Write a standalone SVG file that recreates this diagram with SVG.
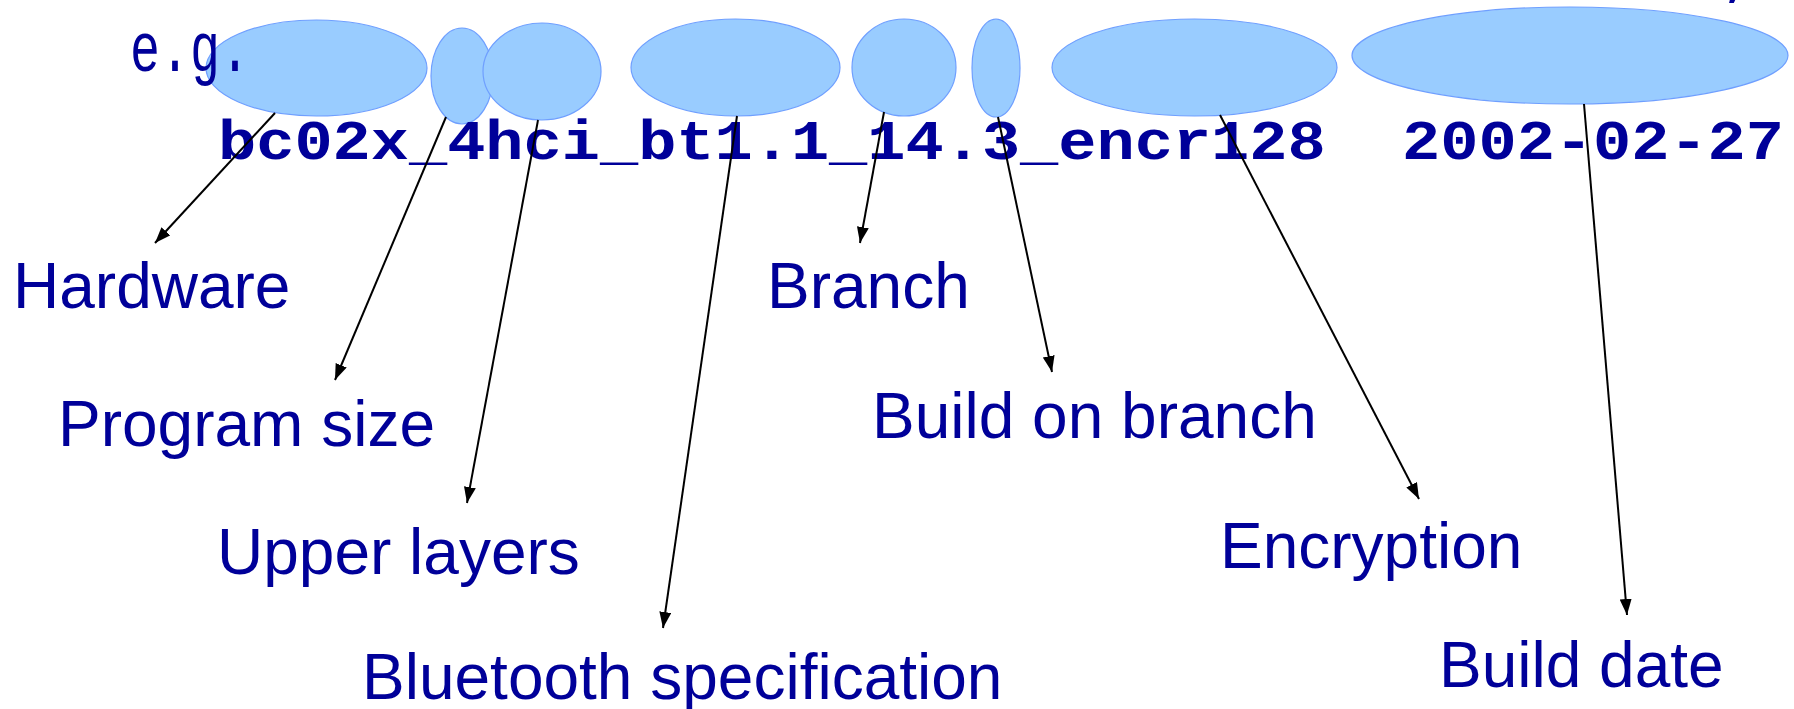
<svg xmlns="http://www.w3.org/2000/svg" width="1794" height="709" viewBox="0 0 1794 709">
  <style>
    .blob { fill: #99CCFF; stroke: #6F9FFF; stroke-width: 1.2; }
    .code { font-family: "Liberation Mono", "DejaVu Sans Mono", monospace; fill: #000099; }
    .label { font-family: "Liberation Sans", Arial, sans-serif; font-size: 64px; fill: #000099; }
    .link { stroke: #000000; stroke-width: 2; fill: none; marker-end: url(#arrow); }
  </style>
  <defs>
    <marker id="arrow" markerUnits="userSpaceOnUse" markerWidth="18" markerHeight="14" refX="16" refY="6" orient="auto">
      <path d="M0,0 L16,6 L0,12 z" fill="#000000"/>
    </marker>
  </defs>
  <rect width="1794" height="709" fill="#ffffff"/>

  <!-- highlight ellipses over each field of the build name -->
  <g id="fields">
    <ellipse id="field-hardware" class="blob" cx="316.5" cy="68" rx="110.5" ry="48"/>
    <ellipse id="field-size" class="blob" cx="462" cy="76" rx="31" ry="48"/>
    <ellipse id="field-layers" class="blob" cx="542" cy="71.5" rx="59" ry="48.5"/>
    <ellipse id="field-spec" class="blob" cx="735.5" cy="67.5" rx="104.5" ry="48.5"/>
    <ellipse id="field-branch" class="blob" cx="904" cy="67.5" rx="52" ry="48.5"/>
    <ellipse id="field-build" class="blob" cx="996" cy="68" rx="24" ry="49"/>
    <ellipse id="field-encryption" class="blob" cx="1194.5" cy="67.5" rx="142.5" ry="48.5"/>
    <ellipse id="field-date" class="blob" cx="1570" cy="55.5" rx="218" ry="48.5"/>
  </g>

  <!-- example build name -->
  <g id="example">
    <text class="code" x="1722" y="-7" font-size="56" font-weight="bold">,</text>
    <text class="code" x="130" y="71" font-size="70" textLength="120" lengthAdjust="spacingAndGlyphs">e.g.</text>
    <text class="code" x="218" y="159" font-size="56" font-weight="bold" textLength="1566" lengthAdjust="spacingAndGlyphs" xml:space="preserve">bc02x_4hci_bt1.1_14.3_encr128  2002-02-27</text>
  </g>

  <!-- field descriptions -->
  <g id="label-hardware"><text class="label" x="13" y="308">Hardware</text></g>
  <g id="label-size"><text class="label" x="58" y="446">Program size</text></g>
  <g id="label-layers"><text class="label" x="217" y="574">Upper layers</text></g>
  <g id="label-spec"><text class="label" x="362" y="699">Bluetooth specification</text></g>
  <g id="label-branch"><text class="label" x="767" y="308">Branch</text></g>
  <g id="label-build"><text class="label" x="872" y="438">Build on branch</text></g>
  <g id="label-encryption"><text class="label" x="1220" y="568">Encryption</text></g>
  <g id="label-date"><text class="label" x="1439" y="687">Build date</text></g>

  <!-- arrows from each field to its description -->
  <g id="connectors">
    <line class="link" x1="275" y1="113" x2="155" y2="243"/>
    <line class="link" x1="446" y1="117" x2="335" y2="380"/>
    <line class="link" x1="538" y1="120" x2="467" y2="503"/>
    <line class="link" x1="737" y1="116" x2="663" y2="628"/>
    <line class="link" x1="884" y1="112" x2="860" y2="243"/>
    <line class="link" x1="998" y1="117" x2="1052" y2="372"/>
    <line class="link" x1="1220" y1="115" x2="1419" y2="499"/>
    <line class="link" x1="1584" y1="104" x2="1627" y2="615"/>
  </g>
</svg>
